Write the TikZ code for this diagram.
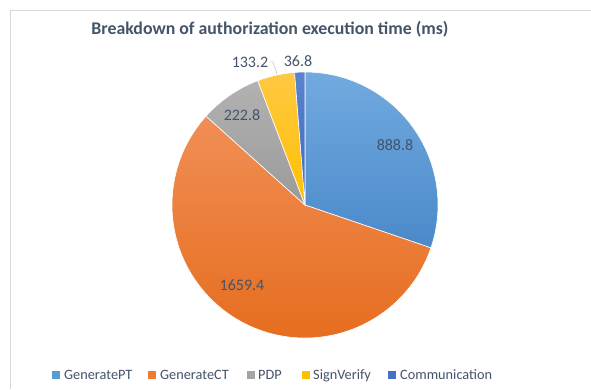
\documentclass[tikz,border=0pt]{standalone}
\usepackage{fontspec}
\setmainfont{Carlito}
\definecolor{txt}{HTML}{44546A}
\definecolor{frame}{HTML}{D9D9D9}
\definecolor{cA}{HTML}{5B9BD5}\definecolor{cAt}{HTML}{72AADF}\definecolor{cAb}{HTML}{4A89CA}
\definecolor{cB}{HTML}{ED7D31}\definecolor{cBt}{HTML}{F18E55}\definecolor{cBb}{HTML}{E56B1B}
\definecolor{cC}{HTML}{A5A5A5}\definecolor{cCt}{HTML}{B2B2B2}\definecolor{cCb}{HTML}{9A9A9A}
\definecolor{cD}{HTML}{FFC000}\definecolor{cDt}{HTML}{FFC843}\definecolor{cDb}{HTML}{FFC000}
\definecolor{cE}{HTML}{4472C4}\definecolor{cEt}{HTML}{5A83CC}\definecolor{cEb}{HTML}{3F6BBE}
\tikzset{
  slice/.style={draw=white, line width=0.6pt},
  val/.style={text=txt, font=\fontsize{16}{18}\selectfont, inner sep=0pt},
  legtext/.style={text=txt, font=\fontsize{14.3}{16}\selectfont, inner sep=0pt, anchor=base west},
  legbox/.style={minimum size=8pt, inner sep=0pt, anchor=south west}
}
\begin{document}
\begin{tikzpicture}[x=1pt,y=1pt]
\useasboundingbox (0,0) rectangle (591,389);
\fill[white] (0,0) rectangle (591,389);
\draw[frame, line width=0.8pt] (10,0) -- (10,379) -- (591,379);
\node[text=txt, font=\bfseries\fontsize{17.8}{20}\selectfont, inner sep=0pt] (title) at (270,360) {Breakdown of authorization execution time (ms)};
\coordinate (c) at (305,184);
\def\R{133}
\shade[slice, top color=cAt, bottom color=cAb] (c) -- ++(90:\R) arc[start angle=90, end angle=-18.796, radius=\R] -- cycle;
\shade[slice, top color=cBt, bottom color=cBb] (c) -- ++(-18.796:\R) arc[start angle=-18.796, end angle=-221.918, radius=\R] -- cycle;
\shade[slice, top color=cCt, bottom color=cCb] (c) -- ++(-221.918:\R) arc[start angle=-221.918, end angle=-249.190, radius=\R] -- cycle;
\shade[slice, top color=cDt, bottom color=cDb] (c) -- ++(-249.190:\R) arc[start angle=-249.190, end angle=-265.494, radius=\R] -- cycle;
\shade[slice, top color=cEt, bottom color=cEb] (c) -- ++(-265.494:\R) arc[start angle=-265.494, end angle=-270, radius=\R] -- cycle;
\node[val] (vA) at (395,244) {888.8};
\node[val] (vB) at (242,104) {1659.4};
\node[val] (vC) at (242,274) {222.8};
\node[val] (vD) at (250,327) {133.2};
\node[val] (vE) at (298,328) {36.8};
\coordinate (lk) at (277,315);
\draw[frame!70!gray, line width=0.5pt] (vD.east) ++(1.5pt,0) -- ++(3pt,0) -- (lk);
% legend
\node[legbox, fill=cA] (lA) at (52,10) {};
\node[legtext] (tA) at (64,10) {GeneratePT};
\node[legbox, fill=cB] (lB) at (148,10) {};
\node[legtext] (tB) at (160,10) {GenerateCT};
\node[legbox, fill=cC] (lC) at (247,10) {};
\node[legtext] (tC) at (258,10) {PDP};
\node[legbox, fill=cD] (lD) at (302,10) {};
\node[legtext] (tD) at (313,10) {SignVerify};
\node[legbox, fill=cE] (lE) at (388,10) {};
\node[legtext] (tE) at (400,10) {Communication};
\end{tikzpicture}
\end{document}
